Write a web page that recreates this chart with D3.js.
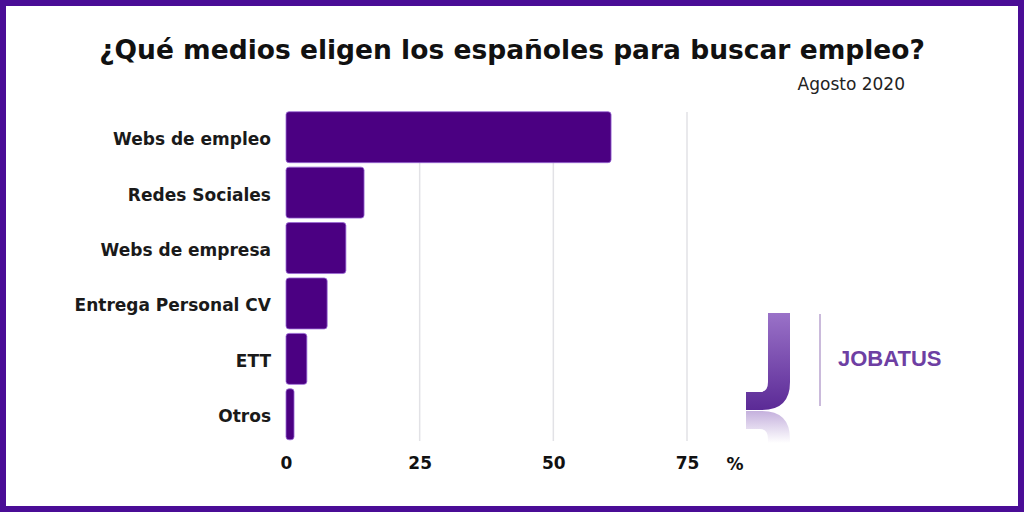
<!DOCTYPE html>
<html>
<head>
<meta charset="utf-8">
<script src="https://cdn.jsdelivr.net/npm/d3@7"></script>
<style>
  body { margin: 0; background: #fff; }
  svg { display: block; font-family: "DejaVu Sans", sans-serif; }
</style>
</head>
<body>
<svg id="chart" width="1024" height="512"></svg>
<script>
// datos (porcentaje)
const categories = ["Webs de empleo", "Redes Sociales", "Webs de empresa", "Entrega Personal CV", "ETT", "Otros"];
const values = [60.8, 14.6, 11.2, 7.7, 3.9, 1.5];
const ticks = [0, 25, 50, 75];

const svg = d3.select("#chart");
const purple = "#4b0082";

// marco
svg.append("rect")
    .attr("x", 3).attr("y", 3)
    .attr("width", 1018).attr("height", 506)
    .attr("fill", "#fff")
    .attr("stroke", "#4a0d96")
    .attr("stroke-width", 6);

svg.append("text")
    .attr("x", 512).attr("y", 59)
    .attr("text-anchor", "middle")
    .style("font-size", "26.5px")
    .style("font-weight", "bold")
    .attr("fill", "#111")
    .text("¿Qué medios eligen los españoles para buscar empleo?");

svg.append("text")
    .attr("x", 905).attr("y", 90)
    .attr("text-anchor", "end")
    .style("font-size", "17px")
    .attr("fill", "#222")
    .text("Agosto 2020");

const x = d3.scaleLinear()
    .domain([0, 75])
    .range([286, 687]);

const y = d3.scaleBand()
    .domain(categories)
    .range([109.5, 442])
    .paddingInner(0.08)
    .paddingOuter(0.04);

// rejilla
svg.append("g")
    .selectAll("line")
    .data(ticks.slice(1))
    .enter()
    .append("line")
    .attr("x1", d => x(d)).attr("x2", d => x(d))
    .attr("y1", 112).attr("y2", 441)
    .attr("stroke", "#e2e2e6")
    .attr("stroke-width", 1.5);

svg.append("g")
    .selectAll("rect")
    .data(values)
    .enter()
    .append("rect")
    .attr("x", x(0))
    .attr("y", (d, i) => y(categories[i]))
    .attr("width", d => x(d) - x(0))
    .attr("height", y.bandwidth())
    .attr("rx", 3)
    .attr("fill", purple)
    .attr("stroke", "#9b6ad6")
    .attr("stroke-width", 0.8);

// etiquetas de categorias
svg.append("g")
    .selectAll("text")
    .data(categories)
    .enter()
    .append("text")
    .attr("x", 271)
    .attr("y", d => y(d) + y.bandwidth() / 2 + 8)
    .attr("text-anchor", "end")
    .style("font-size", "17px")
    .style("font-weight", "bold")
    .attr("fill", "#1a1a1a")
    .text(d => d);

// eje x
const xAxis = svg.append("g")
    .attr("transform", "translate(0,457)")
    .call(d3.axisBottom(x).tickValues(ticks).tickSize(0).tickPadding(0));
xAxis.select(".domain").remove();
xAxis.selectAll("text")
    .attr("dy", "0.71em")
    .style("font-size", "17px")
    .style("font-weight", "bold")
    .style("font-family", "'DejaVu Sans', sans-serif")
    .attr("fill", "#111");

svg.append("text")
    .attr("x", 735).attr("y", 470)
    .attr("text-anchor", "middle")
    .style("font-size", "17px")
    .style("font-weight", "bold")
    .attr("fill", "#111")
    .text("%");

// logo JOBATUS
const defs = svg.append("defs");
const grad = defs.append("linearGradient")
    .attr("id", "jgrad")
    .attr("x1", 0).attr("y1", 0).attr("x2", 0).attr("y2", 1);
grad.append("stop").attr("offset", "0%").attr("stop-color", "#9a72c8");
grad.append("stop").attr("offset", "100%").attr("stop-color", "#5b2a96");
const refl = defs.append("linearGradient")
    .attr("id", "jrefl")
    .attr("gradientUnits", "userSpaceOnUse")
    .attr("x1", 0).attr("y1", 410).attr("x2", 0).attr("y2", 378);
refl.append("stop").attr("offset", "0%").attr("stop-color", "#8a62bb").attr("stop-opacity", 0.5);
refl.append("stop").attr("offset", "100%").attr("stop-color", "#8a62bb").attr("stop-opacity", 0);

const jPath = "M768,313 L790,313 L790,382 Q790,410 762,410 L746,410 L746,392 L760,392 Q768,392 768,382 Z";
svg.append("path").attr("d", jPath).attr("fill", "url(#jgrad)");
svg.append("path")
    .attr("d", jPath)
    .attr("transform", "translate(0,821) scale(1,-1)")
    .attr("fill", "url(#jrefl)");

svg.append("line")
    .attr("x1", 820).attr("x2", 820)
    .attr("y1", 314).attr("y2", 406)
    .attr("stroke", "#b9a3cf")
    .attr("stroke-width", 1.5);

svg.append("text")
    .attr("x", 838).attr("y", 366)
    .style("font-size", "22px")
    .style("font-weight", "bold")
    .style("font-family", "'Liberation Sans', Arial, sans-serif")
    .attr("fill", "#6e3fa3")
    .text("JOBATUS");
</script>
</body>
</html>
